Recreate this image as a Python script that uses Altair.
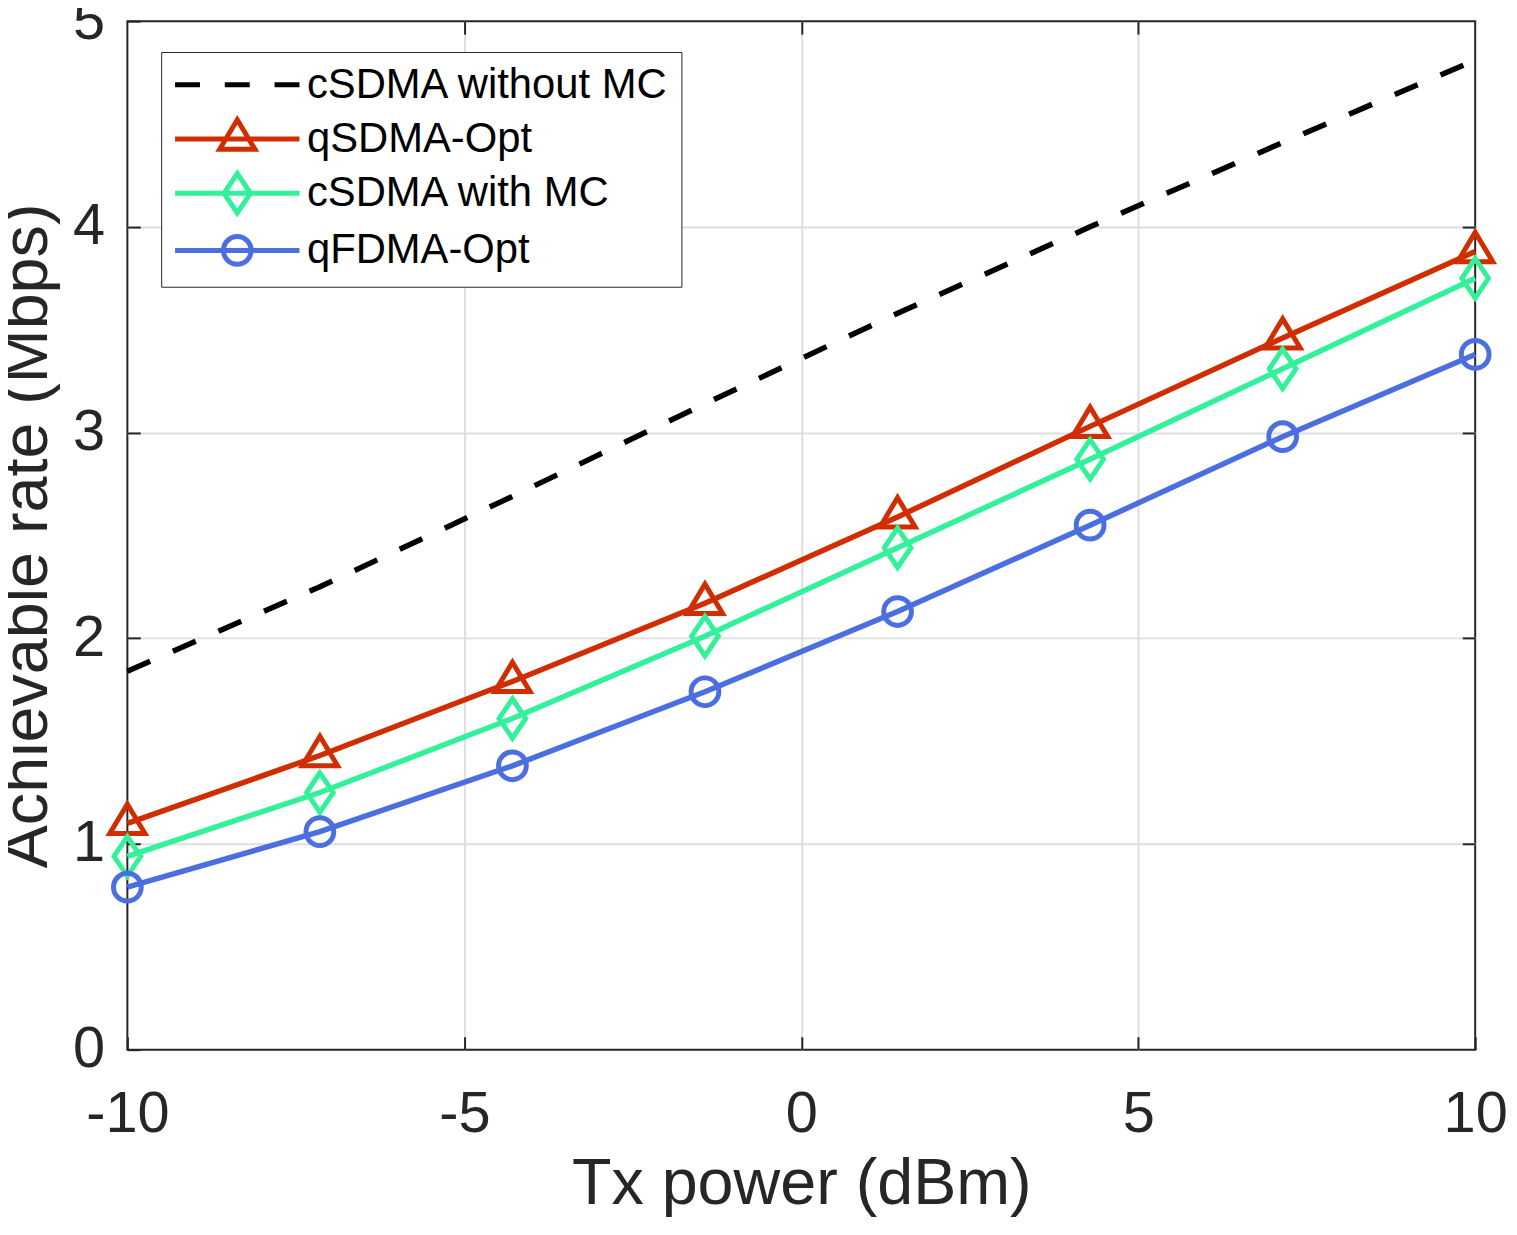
import altair as alt
import pandas as pd

# ---------------- data ----------------
tx_power = [-10, -7.143, -4.286, -1.429, 1.429, 4.286, 7.143, 10]
csdma_without_mc = [1.84, 2.25, 2.69, 3.14, 3.58, 4.00, 4.41, 4.81]
qsdma_opt = [1.10, 1.43, 1.79, 2.17, 2.59, 3.03, 3.46, 3.88]
csdma_with_mc = [0.94, 1.25, 1.61, 2.01, 2.44, 2.87, 3.31, 3.75]
qfdma_opt = [0.79, 1.06, 1.38, 1.74, 2.13, 2.55, 2.98, 3.38]

series_names = ["cSDMA without MC", "qSDMA-Opt", "cSDMA with MC", "qFDMA-Opt"]
series_values = [csdma_without_mc, qsdma_opt, csdma_with_mc, qfdma_opt]
series_colors = ["#000000", "#D02E00", "#33F09B", "#4B6FE0"]

x_ticks = [-10, -5, 0, 5, 10]
y_ticks = [0, 1, 2, 3, 4, 5]
x_grid = [-5, 0, 5]
y_grid = [1, 2, 3, 4]

# ---------------- styles ----------------
FONT = "Liberation Sans"
AX = "#262626"
GRID = "#DEDEDE"

tri = "M0,-1.8L1.65,0.95L-1.65,0.95Z"
dia = "M0,-1.85L1.25,0L0,1.85L-1.25,0Z"
cir = "M1.3,0A1.3,1.3,0,1,1,-1.3,0A1.3,1.3,0,1,1,1.3,0Z"
marker_paths = [None, tri, dia, cir]
seg = "M-5.83,0L5.83,0"
legend_paths = [
    "M-5.83,0L-3.5,0M-1.17,0L1.17,0M3.5,0L5.83,0",
    seg + tri,
    seg + dia,
    seg + cir,
]

rows = []
for name, vals in zip(series_names, series_values):
    for xv, yv in zip(tx_power, vals):
        rows.append({"x": xv, "y": yv, "series": name})
df = pd.DataFrame(rows)

xscale = alt.Scale(domain=[-10, 10], nice=False, zero=False)
yscale = alt.Scale(domain=[0, 5], nice=False, zero=False)

x_main = alt.Axis(
    orient="bottom", values=x_ticks, offset=-13, tickSize=13, tickWidth=2,
    tickColor=AX, domain=False, grid=False, labelFont=FONT, labelFontSize=58,
    labelColor=AX, labelPadding=36, labelExpr="'' + datum.value",
    labelFlush=False, labelOverlap=False, title="Tx power (dBm)",
    titleFont=FONT, titleFontSize=65, titleFontWeight="normal", titleColor=AX,
    titleX=677.5, titleY=168, titleBaseline="alphabetic", titleAlign="center",
    titleAnchor="middle")
y_main = alt.Axis(
    orient="left", values=y_ticks, offset=-13, tickSize=13, tickWidth=2,
    tickColor=AX, domain=False, grid=False, labelFont=FONT, labelFontSize=58,
    labelColor=AX, labelPadding=23, labelExpr="'' + datum.value",
    labelFlush=False, labelOverlap=False, title="Achievable rate (Mbps)",
    titleFont=FONT, titleFontSize=65, titleFontWeight="normal", titleColor=AX,
    titleAngle=270, titleX=-94, titleY=517, titleBaseline="alphabetic",
    titleAlign="center", titleAnchor="middle")
x_top = alt.Axis(
    orient="top", values=x_grid, offset=-13, tickSize=13, tickWidth=2,
    tickColor=AX, domain=False, labels=False, title=None, grid=True,
    gridColor=GRID, gridWidth=2)
y_right = alt.Axis(
    orient="right", values=y_grid, offset=-13, tickSize=13, tickWidth=2,
    tickColor=AX, domain=False, labels=False, title=None, grid=True,
    gridColor=GRID, gridWidth=2)

base = alt.Chart(df)

layers = []
# lines, one layer per series
for i, name in enumerate(series_names):
    if i == 0:
        xa, ya = x_main, y_main
    elif i == 1:
        xa, ya = x_top, y_right
    else:
        xa, ya = None, None
    mark_kw = dict(strokeWidth=5.5, color=series_colors[i], clip=False)
    if i == 0:
        mark_kw["strokeDash"] = [25, 25]
    layers.append(
        base.transform_filter(alt.datum.series == name)
        .mark_line(**mark_kw)
        .encode(x=alt.X("x:Q", scale=xscale, axis=xa),
                y=alt.Y("y:Q", scale=yscale, axis=ya))
    )

# hollow markers
for i, name in enumerate(series_names):
    if marker_paths[i] is None:
        continue
    layers.append(
        base.transform_filter(alt.datum.series == name)
        .mark_point(shape=marker_paths[i], size=460, strokeWidth=5,
                    filled=False, opacity=1, color=series_colors[i],
                    clip=False)
        .encode(x=alt.X("x:Q", scale=xscale, axis=None),
                y=alt.Y("y:Q", scale=yscale, axis=None))
    )

legend_kwargs = dict(
    title=None, orient="none", legendX=34, legendY=31,
    labelFont=FONT, labelFontSize=42, labelColor="#000000", labelLimit=0,
    symbolSize=460, symbolStrokeWidth=5, symbolOpacity=1,
    symbolFillColor="transparent",
    symbolOffset=43.5, labelOffset=49,
    padding=12, rowPadding=3.5, strokeColor=AX, fillColor="#FFFFFF",
)

# invisible layer that only carries the legend
layers.append(
    base.mark_point(filled=False, size=460, strokeWidth=5, opacity=0)
    .encode(
        x=alt.X("x:Q", scale=xscale, axis=None),
        y=alt.Y("y:Q", scale=yscale, axis=None),
        color=alt.Color("series:N",
                        scale=alt.Scale(domain=series_names,
                                        range=series_colors),
                        legend=alt.Legend(**legend_kwargs)),
        shape=alt.Shape("series:N",
                        scale=alt.Scale(domain=series_names,
                                        range=legend_paths),
                        legend=alt.Legend(**legend_kwargs)),
    )
)

chart = alt.layer(*layers).properties(
    width=1355, height=1034,
    autosize=alt.AutoSizeParams(type="none"),
    padding={"left": 120, "top": 10, "right": 34, "bottom": 168},
    background="#FFFFFF",
).configure_view(stroke=AX, strokeWidth=2)

chart.save("out.html", embed_options={"renderer": "svg", "actions": False})
